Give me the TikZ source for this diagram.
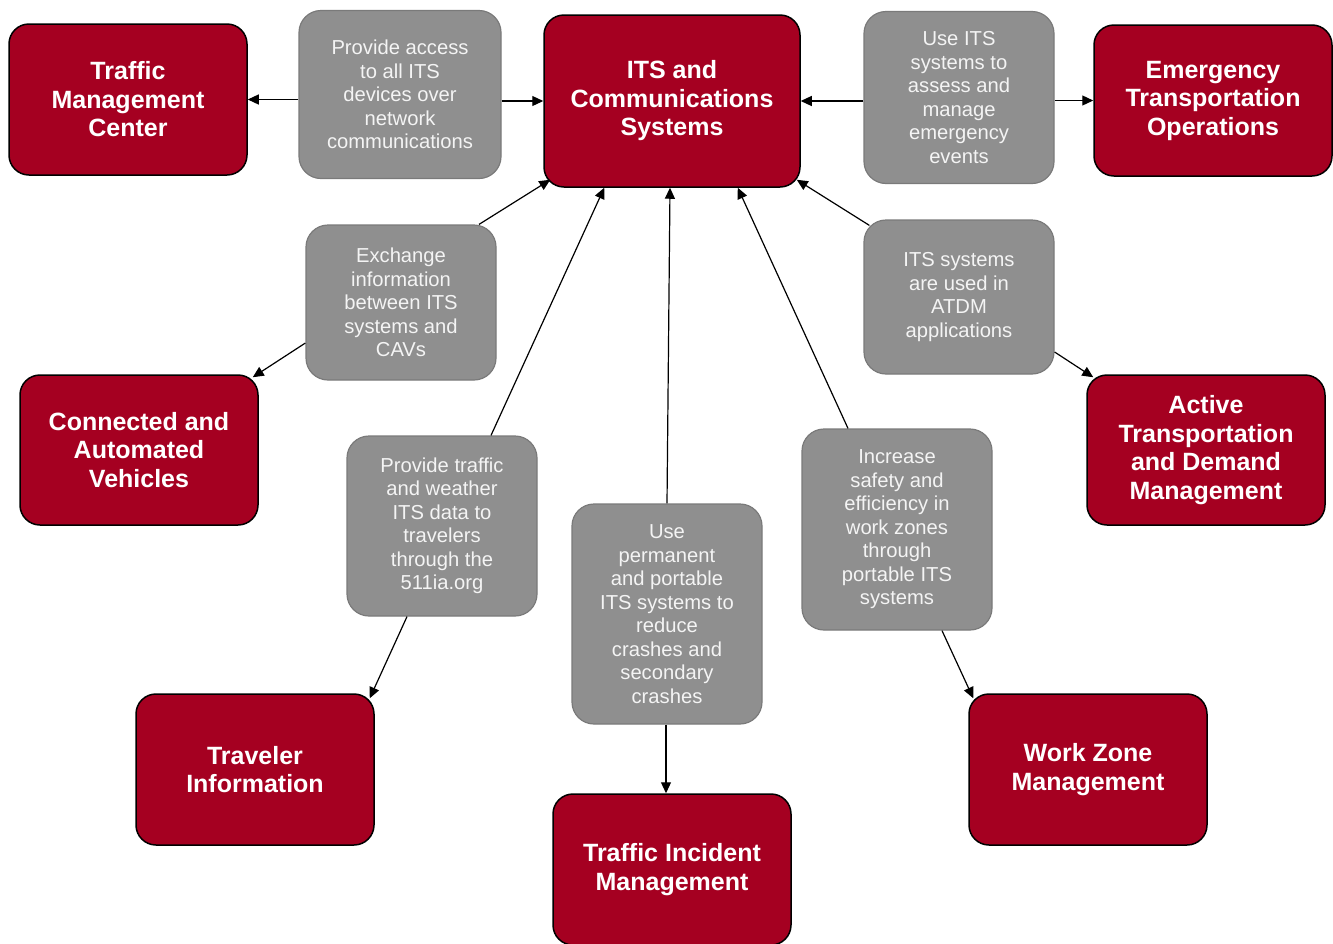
\documentclass[tikz,border=0pt]{standalone}
\usepackage{fontspec}
\setmainfont{Liberation Sans}
\usetikzlibrary{arrows.meta,calc}
\definecolor{redc}{HTML}{A50021}
\definecolor{greyc}{HTML}{8F8F8F}
\definecolor{greyl}{HTML}{7A7A7A}
\definecolor{greytext}{HTML}{F4F4F4}
\tikzset{
 redbox/.style={draw=black, line width=1.5pt, fill=redc, rounded corners=20pt, minimum width=238pt, minimum height=151pt, inner sep=0pt, align=center, text=white, font=\fontsize{25}{28.5}\selectfont\bfseries},
 greybox/.style={draw=greyl, line width=1.2pt, fill=greyc, rounded corners=22pt, minimum width=190pt, inner sep=0pt, align=center, text=greytext, font=\fontsize{20.2}{23.5}\selectfont},
 conn/.style={line width=1.2pt, draw=black, -{Triangle[length=11pt,width=10pt]}}
}
\begin{document}
\begin{tikzpicture}[x=1pt,y=-1pt]
\useasboundingbox (0,0) rectangle (1333,943);
% red boxes
\node[redbox] (tmc) at (128,99.5) {Traffic\\Management\\Center};
\node[redbox, minimum width=256pt, minimum height=172pt] (its) at (672,101) {ITS and\\Communications\\Systems};
\node[redbox] (eto) at (1213,100.5) {Emergency\\Transportation\\Operations};
\node[redbox, minimum height=150pt] (cav) at (139,450) {Connected and\\Automated\\Vehicles};
\node[redbox, minimum height=150pt] (atdm) at (1206,450) {Active\\Transportation\\and Demand\\Management};
\node[redbox] (ti) at (255,769.5) {Traveler\\Information};
\node[redbox] (tim) at (672,869.5) {Traffic Incident\\Management};
\node[redbox] (wzm) at (1088,769.5) {Work Zone\\Management};
% grey boxes
\node[greybox, minimum width=202pt, minimum height=168pt] (g1) at (400,94.5) {Provide access\\to all ITS\\devices over\\network\\communications};
\node[greybox, minimum height=172pt] (g2) at (959,97.5) {Use ITS\\systems to\\assess and\\manage\\emergency\\events};
\node[greybox, minimum height=155pt] (g3) at (401,302.5) {Exchange\\information\\between ITS\\systems and\\CAVs};
\node[greybox, minimum height=154pt] (g4) at (959,297) {ITS systems\\are used in\\ATDM\\applications};
\node[greybox, minimum height=180pt] (g5) at (442,526) {Provide traffic\\and weather\\ITS data to\\travelers\\through the\\511ia.org};
\node[greybox, minimum height=220pt] (g6) at (667,614) {Use\\permanent\\and portable\\ITS systems to\\reduce\\crashes and\\secondary\\crashes};
\node[greybox, minimum height=201pt] (g7) at (897,529.5) {Increase\\safety and\\efficiency in\\work zones\\through\\portable ITS\\systems};
% connectors
\draw[conn] (g1.west |- tmc.east) -- (tmc.east);
\draw[conn] (g1.east |- its.west) -- (its.west);
\draw[conn] (g2.west |- its.east) -- (its.east);
\draw[conn] (g2.east |- eto.west) -- (eto.west);
\draw[conn] ($(g3.north)+(78,0)$) -- ($(its.south west)+(7,-8)$);
\draw[conn] ($(g3.west)+(0,40.5)$) -- ($(cav.north east)+(-6,3)$);
\draw[conn] ($(g4.north west)+(6,6)$) -- ($(its.south east)+(-4,-8)$);
\draw[conn] ($(g4.east)+(0,55)$) -- ($(atdm.north west)+(7,3)$);
\draw[conn] ($(g5.north)+(49,0)$) -- ($(its.south west)+(61,0)$);
\draw[conn] ($(g5.south)+(-35,0)$) -- ($(ti.north east)+(-5,5)$);
\draw[conn] (g6.north) -- ($(its.south)+(-2,0)$);
\draw[conn] ($(g6.south)+(-1,0)$) -- ($(tim.north)+(-6,0)$);
\draw[conn] ($(g7.north)+(-49,0)$) -- ($(its.south east)+(-63,0)$);
\draw[conn] ($(g7.south)+(45,0)$) -- ($(wzm.north west)+(5,5)$);
\end{tikzpicture}
\end{document}
